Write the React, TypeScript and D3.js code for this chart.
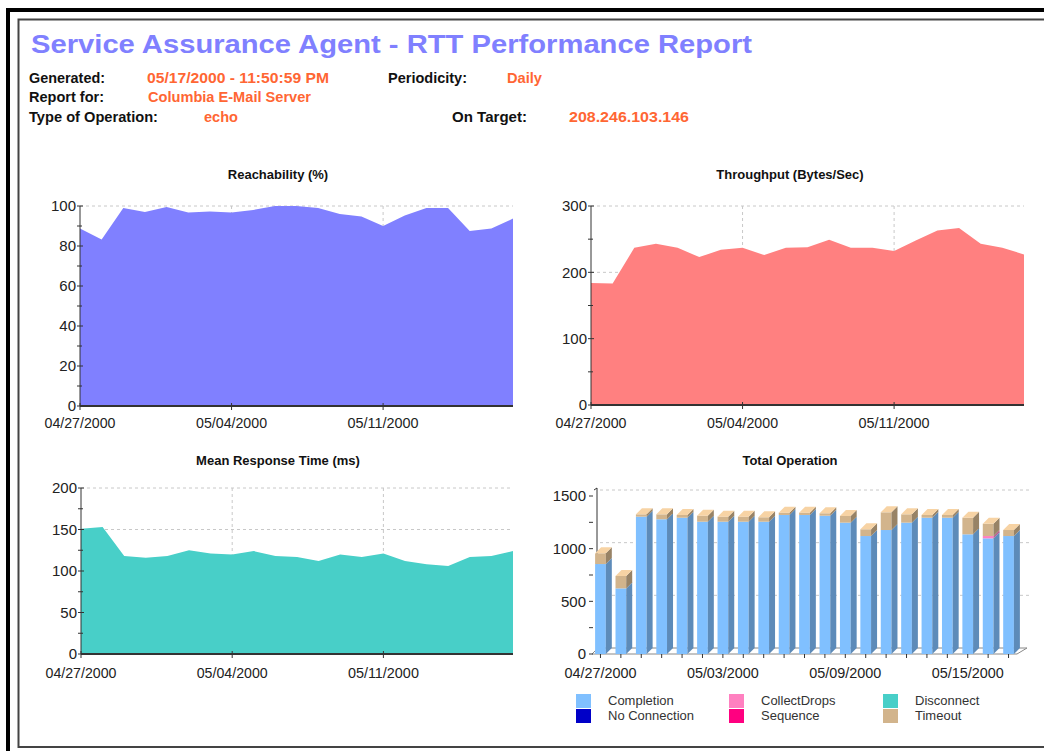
import * as d3 from "d3";

// ---- data ----
const days = [
  "2000-04-27", "2000-04-28", "2000-04-29", "2000-04-30", "2000-05-01", "2000-05-02", "2000-05-03",
  "2000-05-04", "2000-05-05", "2000-05-06", "2000-05-07", "2000-05-08", "2000-05-09", "2000-05-10",
  "2000-05-11", "2000-05-12", "2000-05-13", "2000-05-14", "2000-05-15", "2000-05-16", "2000-05-17",
];

const reachability = [88.7, 83.3, 99, 97, 99.5, 96.7, 97.3, 96.7, 98, 100, 100, 99, 96, 94.7, 90, 95.3, 99, 99, 87.5, 88.7, 93.7];
const throughput = [184, 183, 237, 243, 237, 223, 234, 237, 226, 237, 238, 249, 237, 237, 232, 248, 263, 267, 243, 237, 227];
const meanResponse = [151, 153, 118, 116, 118, 125, 121, 120, 124, 118, 117, 112, 120, 117, 121, 112, 108, 106, 117, 118, 124];

const completion = [854, 623, 1304, 1279, 1294, 1256, 1256, 1256, 1256, 1320, 1320, 1313, 1247, 1120, 1177, 1247, 1294, 1294, 1136, 1098, 1120];
const noConnection = [0, 0, 0, 0, 0, 0, 0, 0, 0, 0, 0, 0, 0, 0, 0, 0, 0, 0, 0, 0, 0];
const collectDrops = [0, 0, 0, 0, 0, 0, 0, 0, 0, 0, 0, 0, 0, 0, 0, 0, 0, 0, 0, 22, 0];
const sequence = [0, 0, 0, 0, 0, 0, 0, 0, 0, 0, 0, 0, 0, 0, 0, 0, 0, 0, 0, 0, 0];
const disconnect = [0, 0, 0, 0, 0, 0, 0, 0, 0, 0, 0, 0, 0, 0, 0, 0, 0, 0, 0, 0, 0];
const timeout = [102, 118, 22, 47, 26, 57, 48, 48, 42, 22, 22, 23, 63, 64, 168, 79, 26, 26, 158, 117, 57];

const areaTickDays = ["2000-04-27", "2000-05-04", "2000-05-11"];
const barTickDays = ["2000-04-27", "2000-05-03", "2000-05-09", "2000-05-15"];

const opKeys = ["completion", "noConnection", "collectDrops", "sequence", "disconnect", "timeout"];
const opLabels = ["Completion", "No Connection", "CollectDrops", "Sequence", "Disconnect", "Timeout"];
const opColors = ["#80C0FF", "#0000C8", "#FF80C0", "#FF0080", "#48CFC8", "#D2B48C"];

const FONT = "'Liberation Sans', Arial, Helvetica, sans-serif";
const parse = d3.utcParse("%Y-%m-%d");
const fmt = d3.utcFormat("%m/%d/%Y");

type PanelProps = {
  title: string;
  titleX: number;
  values: number[];
  color: string;
  left: number;
  right: number;
  top: number;
  bottom: number;
  max: number;
  step: number;
  titleY: number;
  labelY: number;
};

function AreaPanel({ title, titleX, values, color, left, right, top, bottom, max, step, titleY, labelY }: PanelProps) {
  const dates = days.map((d) => parse(d) as Date);
  const x = d3.scaleUtc().domain([dates[0], dates[dates.length - 1]]).range([left, right]);
  const y = d3.scaleLinear().domain([0, max]).range([bottom, top]);
  const major = d3.range(0, max + 1, step);
  const minor = d3.range(step / 2, max, step);
  const ticks = areaTickDays.map((d) => parse(d) as Date);

  const area = d3
    .area<number>()
    .x((_, i) => x(dates[i]))
    .y0(y(0))
    .y1((v) => y(v));

  return (
    <g>
      <text x={titleX} y={titleY} textAnchor="middle" fontSize={13} fontWeight={700} fill="#111">
        {title}
      </text>
      {/* grid behind the area */}
      {major.slice(1).map((v) => (
        <line key={v} x1={left} x2={right} y1={y(v)} y2={y(v)} stroke="#c8c8c8" strokeDasharray="3,3" />
      ))}
      {ticks.slice(1).map((d) => (
        <line key={+d} x1={x(d)} x2={x(d)} y1={top} y2={bottom} stroke="#c8c8c8" strokeDasharray="3,3" />
      ))}
      <path d={area(values) ?? ""} fill={color} />
      {/* y axis */}
      <line x1={left} x2={left} y1={top} y2={bottom} stroke="#333" />
      {major.map((v) => (
        <g key={v}>
          <line x1={left - 3} x2={left + 3} y1={y(v)} y2={y(v)} stroke="#333" />
          <text x={left - 4} y={y(v)} dy="0.36em" textAnchor="end" fontSize={15} fill="#222">
            {v}
          </text>
        </g>
      ))}
      {minor.map((v) => (
        <line key={v} x1={left - 3} x2={left + 2} y1={y(v)} y2={y(v)} stroke="#333" />
      ))}
      {/* x axis */}
      <line x1={left} x2={right} y1={bottom} y2={bottom} stroke="#333" strokeWidth={2} />
      {ticks.map((d) => (
        <g key={+d}>
          <line x1={x(d)} x2={x(d)} y1={bottom - 3} y2={bottom + 4} stroke="#333" />
          <text x={x(d) - 35.5} y={labelY} fontSize={15} fill="#222" textLength={71} lengthAdjust="spacingAndGlyphs">
            {fmt(d)}
          </text>
        </g>
      ))}
    </g>
  );
}

function BarPanel() {
  const left = 590;
  const right = 1019;
  const bottom = 654;
  const top = 496;
  const dx = 6;
  const dy = 6;

  const table = days.map((d, i) => ({
    day: d,
    completion: completion[i],
    noConnection: noConnection[i],
    collectDrops: collectDrops[i],
    sequence: sequence[i],
    disconnect: disconnect[i],
    timeout: timeout[i],
  }));
  const series = d3.stack<any>().keys(opKeys)(table);

  const x = d3.scaleBand().domain(days).range([left, right]).paddingInner(0.475).paddingOuter(0.25);
  const y = d3.scaleLinear().domain([0, 1500]).range([bottom, top]);
  const major = [0, 500, 1000, 1500];
  const minor = [250, 750, 1250];
  const bw = x.bandwidth();

  const topIdx = days.map((_, i) => {
    let k = -1;
    series.forEach((s, si) => {
      if (s[i][1] > s[i][0]) k = si;
    });
    return k;
  });

  return (
    <g>
      <text x={790} y={465} textAnchor="middle" fontSize={13} fontWeight={700} fill="#111">
        Total Operation
      </text>
      {/* back wall grid */}
      {major.slice(1).map((v) => (
        <line key={v} x1={left + dx + 4} x2={right + dx + 4} y1={y(v) - dy} y2={y(v) - dy} stroke="#c8c8c8" strokeDasharray="3,3" />
      ))}
      {/* floor */}
      <path
        d={`M${left + 2},${bottom} L${right - 2},${bottom} L${right + dx + 2},${bottom - dy} L${left + dx + 2},${bottom - dy} Z`}
        fill="#fff"
        stroke="#888"
      />
      <line x1={left + dx + 1} x2={left + dx + 1} y1={bottom - dy} y2={y(1500) - dy - 2} stroke="#333" />
      <line x1={left + dx + 1} x2={left + dx - 2} y1={y(1500) - dy - 2} y2={y(1500) - dy} stroke="#333" />
      {/* bars */}
      {days.map((d, i) => {
        const bx = x(d) as number;
        return (
          <g key={d}>
            {series.map((s, si) => {
              const [a, b] = s[i];
              if (b <= a) return null;
              const c = d3.color(opColors[si]) as d3.RGBColor;
              const y0 = y(a);
              const y1 = y(b);
              return (
                <g key={si}>
                  <rect x={bx} y={y1} width={bw} height={y0 - y1} fill={opColors[si]} />
                  <path
                    d={`M${bx + bw},${y1} L${bx + bw + dx},${y1 - dy} L${bx + bw + dx},${y0 - dy} L${bx + bw},${y0} Z`}
                    fill={c.darker(0.9).formatHex()}
                  />
                  {si === topIdx[i] && (
                    <path
                      d={`M${bx},${y1} L${bx + dx},${y1 - dy} L${bx + bw + dx},${y1 - dy} L${bx + bw},${y1} Z`}
                      fill={c.brighter(0.45).formatHex()}
                    />
                  )}
                </g>
              );
            })}
            <line x1={bx + bw / 2} x2={bx + bw / 2} y1={bottom} y2={bottom + 4} stroke="#333" />
          </g>
        );
      })}
      {/* y axis labels */}
      {major.map((v) => (
        <g key={v}>
          <line x1={left - 1} x2={left + 3} y1={y(v)} y2={y(v)} stroke="#333" />
          <text x={left - 4} y={y(v)} dy="0.36em" textAnchor="end" fontSize={15} fill="#222">
            {v}
          </text>
        </g>
      ))}
      {minor.map((v) => (
        <line key={v} x1={left - 1} x2={left + 3} y1={y(v)} y2={y(v)} stroke="#333" />
      ))}
      {barTickDays.map((d) => (
        <text
          key={d}
          x={(x(d) as number) + bw / 2 - 36}
          y={678}
          fontSize={15}
          fill="#222"
          textLength={72}
          lengthAdjust="spacingAndGlyphs"
        >
          {fmt(parse(d) as Date)}
        </text>
      ))}
      {/* legend */}
      {opLabels.map((lab, i) => {
        const col = Math.floor(i / 2);
        const row = i % 2;
        const lx = [576, 729, 883][col];
        const ly = 694 + row * 15;
        return (
          <g key={lab}>
            <rect x={lx} y={ly} width={15} height={14} fill={opColors[i]} />
            <text x={lx + 32} y={ly + 11} fontSize={13} fill="#333">
              {lab}
            </text>
          </g>
        );
      })}
    </g>
  );
}

export default function App() {
  const orange = "#FF6633";
  return (
    <svg
      width={1044}
      height={751}
      style={{ position: "absolute", left: 0, top: 0, background: "#fff" }}
      fontFamily={FONT}
    >
      {/* page frame */}
      <rect x={6} y={8} width={1038} height={4} fill="#000" />
      <rect x={6} y={8} width={4} height={743} fill="#000" />
      <rect x={18.5} y={19.5} width={1040} height={727.5} fill="none" stroke="#444" strokeWidth={2} />

      {/* header */}
      <text x={31} y={53} fontSize={26} fontWeight={700} fill="#8080FF" textLength={721} lengthAdjust="spacingAndGlyphs">
        Service Assurance Agent - RTT Performance Report
      </text>
      <g fontSize={14} fontWeight={700}>
        <text x={29} y={83} fill="#111" textLength={76} lengthAdjust="spacingAndGlyphs">Generated:</text>
        <text x={147} y={83} fill={orange} textLength={182} lengthAdjust="spacingAndGlyphs">05/17/2000 -  11:50:59 PM</text>
        <text x={388} y={83} fill="#111" textLength={79} lengthAdjust="spacingAndGlyphs">Periodicity:</text>
        <text x={507} y={83} fill={orange} textLength={35} lengthAdjust="spacingAndGlyphs">Daily</text>
        <text x={29} y={102} fill="#111" textLength={75} lengthAdjust="spacingAndGlyphs">Report for:</text>
        <text x={148} y={102} fill={orange} textLength={163} lengthAdjust="spacingAndGlyphs">Columbia E-Mail Server</text>
        <text x={29} y={122} fill="#111" textLength={129} lengthAdjust="spacingAndGlyphs">Type of Operation:</text>
        <text x={204} y={122} fill={orange} textLength={34} lengthAdjust="spacingAndGlyphs">echo</text>
        <text x={452} y={122} fill="#111" textLength={75} lengthAdjust="spacingAndGlyphs">On Target:</text>
        <text x={569} y={122} fill={orange} textLength={120} lengthAdjust="spacingAndGlyphs">208.246.103.146</text>
      </g>

      <AreaPanel
        title="Reachability (%)"
        titleX={278}
        values={reachability}
        color="#8080FF"
        left={80}
        right={513}
        top={206}
        bottom={406}
        max={100}
        step={20}
        titleY={179}
        labelY={428}
      />
      <AreaPanel
        title="Throughput (Bytes/Sec)"
        titleX={790}
        values={throughput}
        color="#FF8080"
        left={591}
        right={1024}
        top={206}
        bottom={405}
        max={300}
        step={100}
        titleY={179}
        labelY={428}
      />
      <AreaPanel
        title="Mean Response Time (ms)"
        titleX={278}
        values={meanResponse}
        color="#48CFC8"
        left={81}
        right={513}
        top={488}
        bottom={654}
        max={200}
        step={50}
        titleY={465}
        labelY={678}
      />
      <BarPanel />
    </svg>
  );
}
